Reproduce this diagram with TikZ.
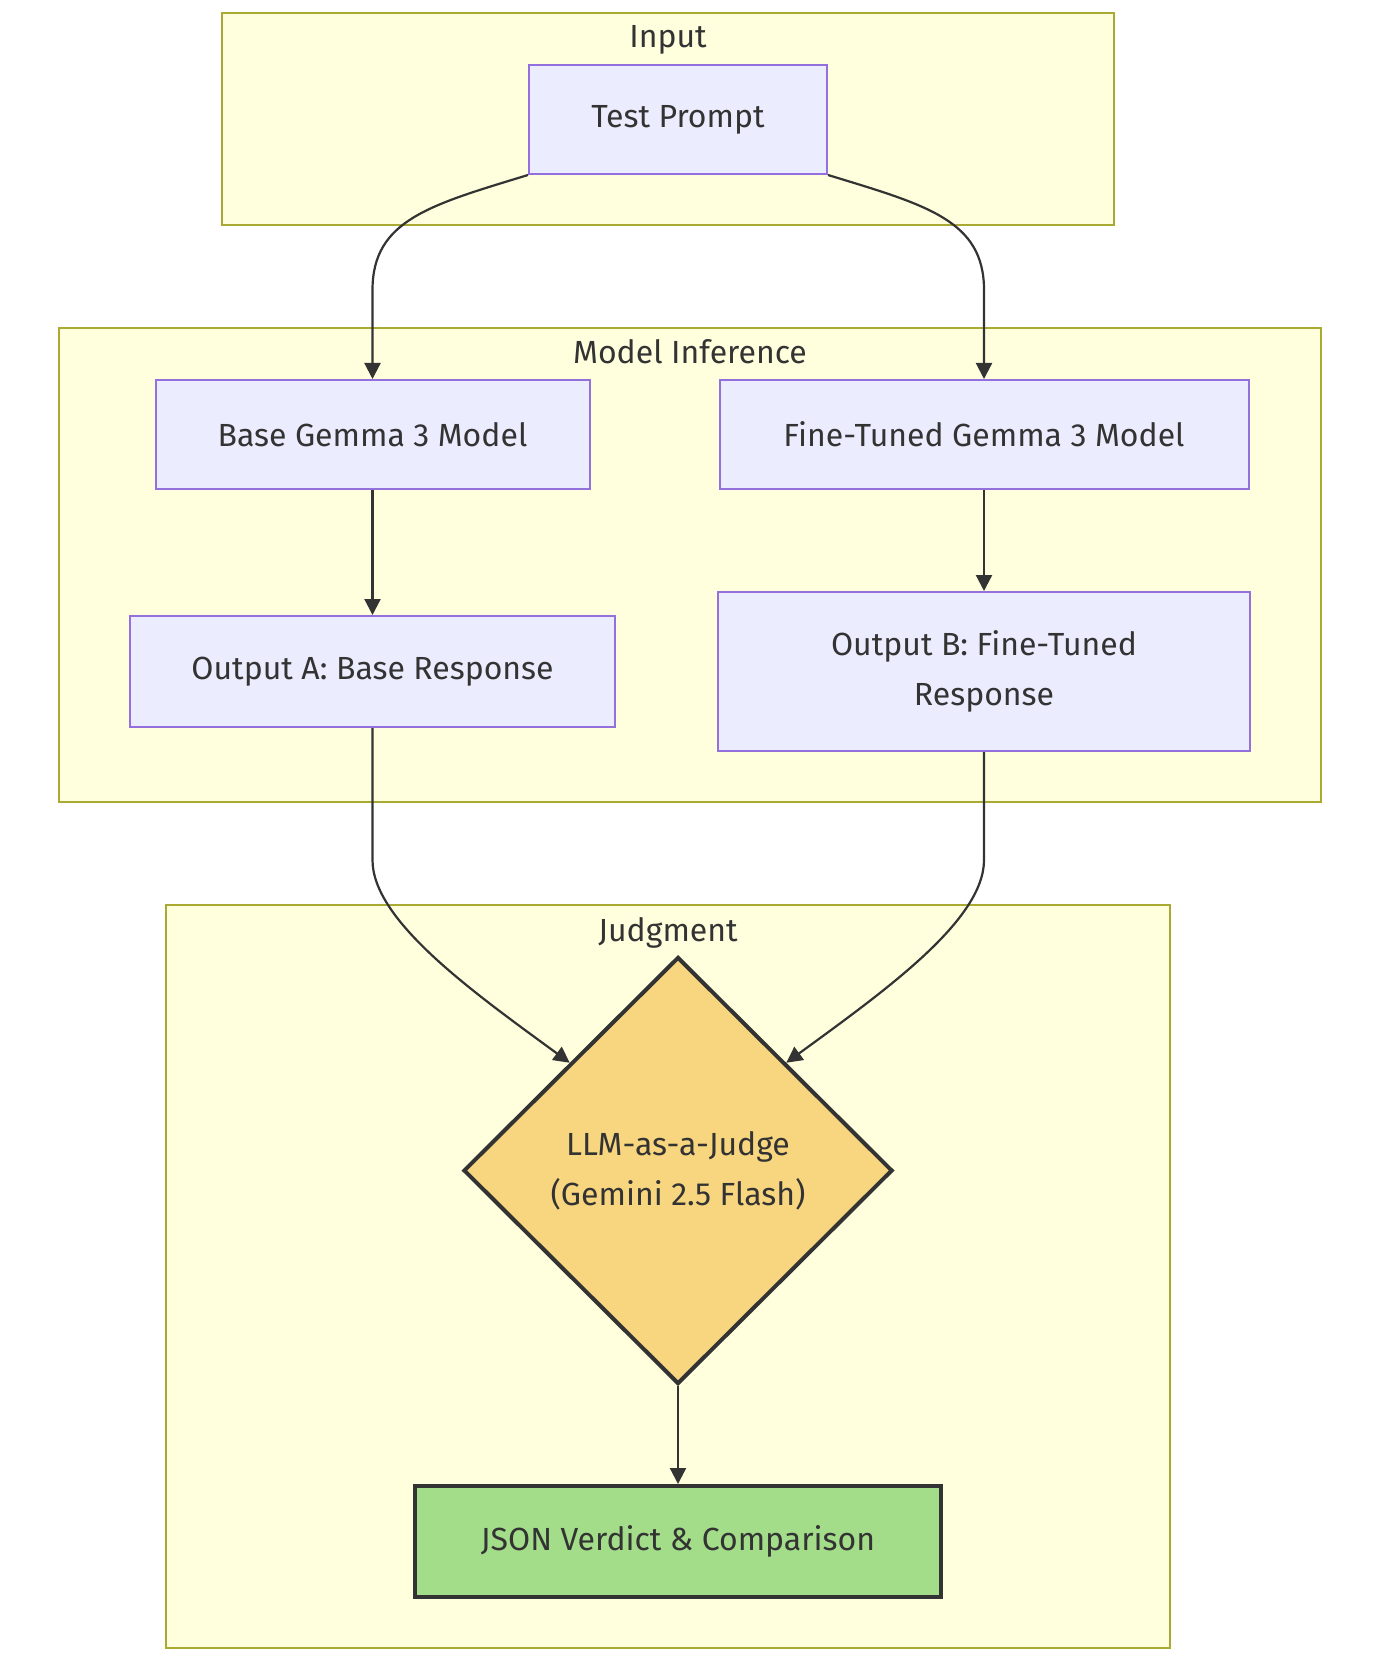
\documentclass[tikz,border=0pt]{standalone}
\usepackage{fontspec}
\setmainfont{Fira Sans}
\usetikzlibrary{shapes.geometric,arrows.meta,calc}
\definecolor{clfill}{HTML}{FFFFDE}
\definecolor{cldraw}{HTML}{AAAA33}
\definecolor{ndfill}{HTML}{ECECFF}
\definecolor{nddraw}{HTML}{9370DB}
\definecolor{txt}{HTML}{333333}
\definecolor{judgefill}{HTML}{F8D67F}
\definecolor{verdictfill}{HTML}{A3DD8A}
\tikzset{
  cluster/.style={draw=cldraw, fill=clfill, line width=1pt},
  cllabel/.style={text=txt, inner sep=0pt, anchor=base},
  nodebox/.style={rectangle, draw=nddraw, fill=ndfill, line width=1pt, text=txt, align=center, inner sep=0pt},
  judgebox/.style={diamond, draw=txt, fill=judgefill, line width=2pt, text=txt, align=center, inner sep=0pt, minimum width=214.5pt, minimum height=213.5pt},
  verdictbox/.style={rectangle, draw=txt, fill=verdictfill, line width=2pt, text=txt, align=center, inner sep=0pt},
  edge/.style={draw=txt, line width=1.1pt, -{Triangle[length=8pt,width=8pt]}},
}
\begin{document}
\begin{tikzpicture}[x=0.5pt,y=-0.5pt, font=\fontsize{16}{25}\selectfont]
\useasboundingbox[fill=white] (0,0) rectangle (1379,1657);
% clusters
\draw[cluster] (222,12.7) rectangle (1114,225);
\node[cllabel] (lin) at (668,48) {Input};
\draw[cluster] (59,328) rectangle (1321,802);
\node[cllabel] (lmi) at (690,364) {Model Inference};
\draw[cluster] (166,905) rectangle (1170,1648);
\node[cllabel] (ljd) at (668,941) {Judgment};
% nodes
\node[nodebox, minimum width=149pt, minimum height=54.5pt] (TP) at (678,119.5) {Test Prompt};
\node[nodebox, minimum width=217pt, minimum height=54.5pt] (BM) at (372.5,434.5) {Base Gemma 3 Model};
\node[nodebox, minimum width=264.5pt, minimum height=54.5pt] (FM) at (984,434.5) {Fine-Tuned Gemma 3 Model};
\node[nodebox, minimum width=242.5pt, minimum height=55.5pt] (OA) at (372.5,671.5) {Output A: Base Response};
\node[nodebox, minimum width=266pt, minimum height=79.5pt] (OB) at (984,671.5) {Output B: Fine-Tuned\\Response};
\node[judgebox] (J) at (678,1170.5) {LLM-as-a-Judge\\(Gemini 2.5 Flash)};
\node[verdictbox, minimum width=263pt, minimum height=55.5pt] (V) at (678,1541.5) {JSON Verdict \& Comparison};
\coordinate (Jnw) at ($(J.north)!0.5!(J.west)$);
\coordinate (Jne) at ($(J.north)!0.5!(J.east)$);
% edges
\draw[edge] (TP.south west) .. controls (430,205) and (372.5,220) .. (372.5,290) -- (BM.north);
\draw[edge] (TP.south east) .. controls (926,205) and (984,220) .. (984,290) -- (FM.north);
\draw[edge] (BM.south) -- (OA.north);
\draw[edge] (FM.south) -- (OB.north);
\draw[edge] (OA.south) -- (372.5,860) .. controls (372.5,920) and (470,990) .. (Jnw);
\draw[edge] (OB.south) -- (984,860) .. controls (984,920) and (886,990) .. (Jne);
\draw[edge] (J.south) -- (V.north);
\end{tikzpicture}
\end{document}
